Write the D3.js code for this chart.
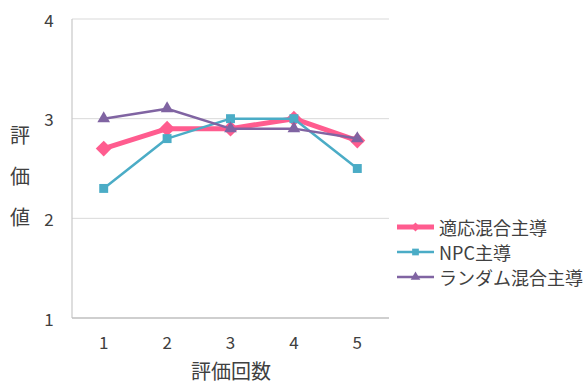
<!DOCTYPE html>
<html>
<head>
<meta charset="utf-8">
<script src="https://cdn.jsdelivr.net/npm/d3@7"></script>
<style>
  html, body { margin: 0; padding: 0; background: #fff; }
  svg text { font-family: "Noto Sans CJK JP", "Noto Sans", sans-serif; fill: #404040; }
</style>
</head>
<body>
<svg id="chart" width="585" height="385"></svg>
<script>
// Evaluation rounds and the mean score of each condition
const rounds = ["1", "2", "3", "4", "5"];
const yTicks = [1, 2, 3, 4];
const seriesNames = ["適応混合主導", "NPC主導", "ランダム混合主導"];
const adaptiveValues = [2.7, 2.9, 2.9, 3.0, 2.78];
const npcValues = [2.3, 2.8, 3.0, 3.0, 2.5];
const randomValues = [3.0, 3.1, 2.9, 2.9, 2.8];

const series = [
  { name: seriesNames[0], values: adaptiveValues, color: "#FF5C8F", width: 5, marker: d3.symbolDiamond2, size: 160, legendSize: 50 },
  { name: seriesNames[1], values: npcValues, color: "#4BACC6", width: 2.5, marker: d3.symbolSquare, size: 80, legendSize: 45 },
  { name: seriesNames[2], values: randomValues, color: "#8064A2", width: 2.5, marker: d3.symbolTriangle, size: 70, legendSize: 40 }
];

const svg = d3.select("#chart");
const plot = { left: 72, right: 389, top: 19, bottom: 318 };

const x = d3.scaleBand().domain(rounds).range([plot.left, plot.right]);
const y = d3.scaleLinear().domain([1, 4]).range([plot.bottom, plot.top]);
const cx = d => x(d) + x.bandwidth() / 2;

// horizontal gridlines
svg.append("g")
  .selectAll("line")
  .data(yTicks.filter(t => t > 1))
  .join("line")
  .attr("x1", plot.left).attr("x2", plot.right)
  .attr("y1", d => y(d)).attr("y2", d => y(d))
  .attr("stroke", "#D9D9D9").attr("stroke-width", 1);

// axis lines
svg.append("line")
  .attr("x1", plot.left).attr("x2", plot.left)
  .attr("y1", plot.top).attr("y2", plot.bottom)
  .attr("stroke", "#C8C8C8").attr("stroke-width", 1.2);
svg.append("line")
  .attr("x1", plot.left).attr("x2", plot.right)
  .attr("y1", plot.bottom).attr("y2", plot.bottom)
  .attr("stroke", "#BFBFBF").attr("stroke-width", 1.5);

// y tick labels
svg.append("g")
  .selectAll("text")
  .data(yTicks)
  .join("text")
  .attr("x", 49).attr("y", d => y(d))
  .attr("text-anchor", "middle").attr("dominant-baseline", "central")
  .attr("font-size", 17)
  .text(d => d);

// x tick labels
svg.append("g")
  .selectAll("text")
  .data(rounds)
  .join("text")
  .attr("x", d => cx(d)).attr("y", 341)
  .attr("text-anchor", "middle").attr("dominant-baseline", "central")
  .attr("font-size", 17)
  .text(d => d);

// axis titles
svg.append("text")
  .attr("x", 231).attr("y", 370)
  .attr("text-anchor", "middle").attr("dominant-baseline", "central")
  .attr("font-size", 20)
  .text("評価回数");

const yTitle = "評価値".split("");
svg.append("g")
  .selectAll("text")
  .data(yTitle)
  .join("text")
  .attr("x", 20).attr("y", (d, i) => 134 + i * 41)
  .attr("text-anchor", "middle").attr("dominant-baseline", "central")
  .attr("font-size", 20)
  .text(d => d);

// series lines and markers
const line = d3.line().x((d, i) => cx(rounds[i])).y(d => y(d));
series.forEach(s => {
  const g = svg.append("g");
  g.append("path")
    .attr("d", line(s.values))
    .attr("fill", "none")
    .attr("stroke", s.color)
    .attr("stroke-width", s.width)
    .attr("stroke-linejoin", "round");
  g.selectAll("path.marker")
    .data(s.values)
    .join("path")
    .attr("class", "marker")
    .attr("transform", (d, i) => `translate(${cx(rounds[i])},${y(d)})`)
    .attr("d", d3.symbol().type(s.marker).size(s.size))
    .attr("fill", s.color);
});

// legend
const legend = svg.append("g");
series.forEach((s, i) => {
  const ly = 227 + i * 25;
  legend.append("line")
    .attr("x1", 397).attr("x2", 434)
    .attr("y1", ly).attr("y2", ly)
    .attr("stroke", s.color).attr("stroke-width", s.width);
  legend.append("path")
    .attr("transform", `translate(415.5,${ly})`)
    .attr("d", d3.symbol().type(s.marker).size(s.legendSize))
    .attr("fill", s.color);
  legend.append("text")
    .attr("x", 439).attr("y", ly)
    .attr("dominant-baseline", "central")
    .attr("font-size", 18)
    .text(s.name);
});
</script>
</body>
</html>
